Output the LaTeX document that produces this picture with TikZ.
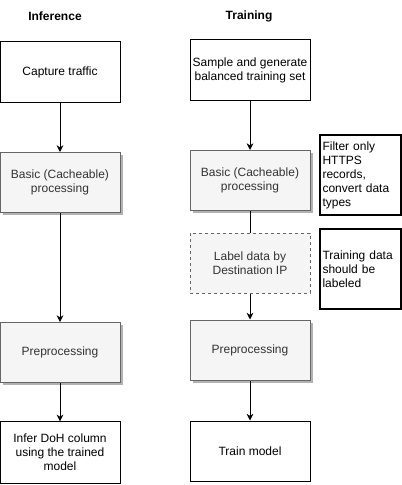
\documentclass[tikz,border=0pt]{standalone}
\usepackage{fontspec}
\setmainfont{Liberation Sans}
\usetikzlibrary{arrows.meta,shadows}
\definecolor{boxgray}{HTML}{F5F5F5}
\definecolor{linegray}{HTML}{666666}
\definecolor{textgray}{HTML}{333333}
\begin{document}
\begin{tikzpicture}[x=0.75pt,y=0.75pt,yscale=-1,xscale=1,
  every node/.style={font=\fontsize{9}{10.5}\selectfont},
  plainbox/.style={draw=black,fill=white,line width=0.75pt,minimum width=90pt,minimum height=45pt,align=center,inner sep=1pt},
  graybox/.style={plainbox,draw=linegray,fill=boxgray,text=textgray,drop shadow={shadow xshift=2pt,shadow yshift=-2pt,opacity=0.3,fill=black}},
  dashbox/.style={plainbox,draw=linegray,fill=boxgray,text=textgray,dashed,dash pattern=on 2.25pt off 2.25pt},
  notebox/.style={draw=black,line width=1.5pt,minimum width=60.75pt,minimum height=60pt,align=left,inner sep=1.5pt,text width=57pt},
  flow/.style={draw=black,line width=0.75pt,-{Stealth[length=5pt,width=5pt,inset=1.5pt]}},
  title/.style={font=\fontsize{9}{10.5}\selectfont\bfseries}]
\useasboundingbox (0,0) rectangle (402,485);

% Text Node
\node [title] (tinf) at (55,16) {Inference};
% Text Node
\node [title] (ttrain) at (249,16) {Training};

%Shape: Rectangle - inference side
\node [plainbox] (capture) at (60,72) {Capture traffic};
\node [graybox] (basicinf) at (60,182.5) {Basic (Cacheable)\\processing};
\node [graybox] (preinf) at (60,352.5) {Preprocessing};
\node [plainbox,minimum height=46pt] (infer) at (60,452.5) {Infer DoH column\\using the trained\\model};

%Shape: Rectangle - training side
\node [plainbox] (sample) at (250,70) {Sample and generate\\balanced training set};
\node [graybox] (basictrain) at (250,180.5) {Basic (Cacheable)\\processing};
\node [dashbox] (label) at (250,263) {Label data by\\Destination IP};
\node [graybox] (pretrain) at (250,350) {Preprocessing};
\node [plainbox] (train) at (250,451) {Train model};

%Shape: Notes
\node [notebox] (filter) at (360.5,175) {Filter only\\HTTPS\\records,\\convert data\\types};
\node [notebox] (labelnote) at (360.5,269) {Training data\\should be\\labeled};

%Straight Lines
\draw [flow] (capture) -- (basicinf);
\draw [flow] (basicinf) -- (preinf);
\draw [flow] (preinf) -- (infer);
\draw [flow] (sample) -- (basictrain);
\draw [line width=0.75pt] (basictrain) -- (label);
\draw [flow] (label) -- (pretrain);
\draw [flow] (pretrain) -- (train);

\end{tikzpicture}
\end{document}
